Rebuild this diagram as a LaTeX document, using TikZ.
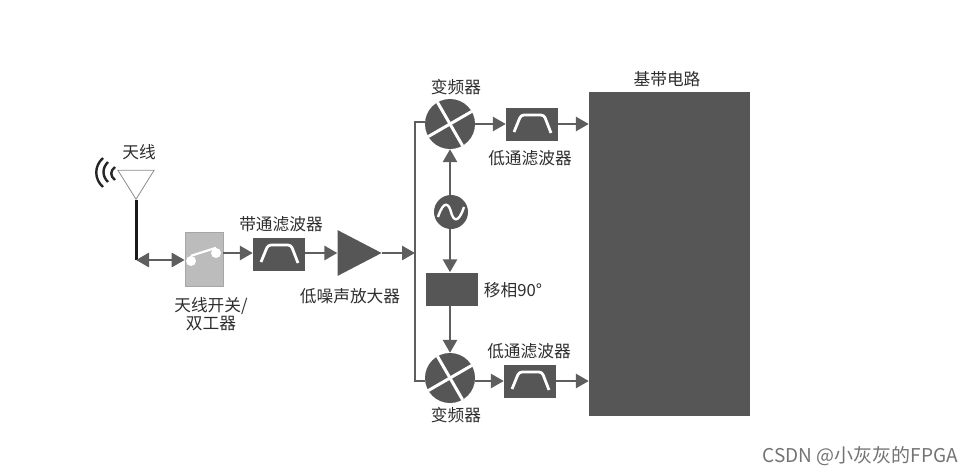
\documentclass[tikz,border=0pt]{standalone}
\usepackage{fontspec}
\setmainfont{Noto Sans CJK SC}
\usepackage{tikz}
\usetikzlibrary{positioning,shapes.geometric,arrows.meta,calc}
\usepackage{xcolor}
\definecolor{rfDark}{HTML}{565656}
\definecolor{rfLine}{HTML}{5E5E5E}
\definecolor{rfPanel}{HTML}{BCBCBC}
\definecolor{rfText}{HTML}{2E2E2E}
\tikzset{
  block/.style={draw=none,fill=rfDark,minimum width=52pt,minimum height=33pt,inner sep=0pt},
  mixer/.style={circle,fill=rfDark,minimum size=50pt,inner sep=0pt},
  link/.style={rfLine,line width=2.8pt},
  flow/.style={link,-{Triangle[length=13pt,width=14pt]}},
  cross/.style={white,line width=3pt},
  label/.style={rfText,font=\fontsize{16.7}{18}\selectfont,inner sep=0pt,align=center},
  wave/.style={black!85,line width=2.4pt},
  filtercurve/.pic={\draw[white,line width=2.8pt,rounded corners=3pt] (-18,8) -- (-11,-9) -- (12,-9) -- (19,9);}
}
\begin{document}
\begin{tikzpicture}[x=1pt,y=-1pt]
  \useasboundingbox (0,0) rectangle (973,474);
  % antenna
  \node[isosceles triangle,shape border rotate=-90,isosceles triangle apex angle=64,
    draw=black!45,line width=0.8pt,minimum height=29pt,inner sep=0pt,anchor=apex] (ant) at (136,200) {};
  \draw[wave] (115,167) .. controls (110,171) and (110,176) .. (115,180);
  \draw[wave] (108,162) .. controls (102,168) and (102,176) .. (108,182);
  \draw[wave] (103,158) .. controls (94,166) and (94,179) .. (103,187);
  \coordinate (feed) at (136,260);
  % switch
  \node[fill=rfPanel,draw=black!35,line width=0.6pt,minimum width=38pt,minimum height=54pt,inner sep=0pt] (sw) at (204,259) {};
  \node[circle,fill=white,minimum size=10pt,inner sep=0pt] (swA) at (191,261) {};
  \node[circle,fill=white,minimum size=10pt,inner sep=0pt] (swB) at (216,253) {};
  \draw[white,line width=2.2pt] (swA.north) -- (swB.north);
  % receive chain
  \node[block] (bpf) at (279,254) {};
  \node[isosceles triangle,isosceles triangle apex angle=55,fill=rfDark,minimum height=44pt,inner sep=0pt,anchor=apex] (lna) at (382,253) {};
  \coordinate (busT) at (415,122);
  \coordinate (busM) at (415,253);
  \coordinate (busB) at (415,381);
  \node[mixer] (mixU) at (450,124) {};
  \node[mixer] (mixL) at (450,378) {};
  \node[block] (lpfU) at (532,124) {};
  \node[block] (lpfL) at (530,381) {};
  \node[circle,fill=rfDark,minimum size=34pt,inner sep=0pt] (osc) at (451,212) {};
  \node[block] (shift) at (452,289) {};
  \node[fill=rfDark,minimum width=161pt,minimum height=324pt,inner sep=0pt] (bb) at (669.5,254) {};
  % inner marks
  \foreach \m in {mixU,mixL} {
    \draw[cross] (\m.120) -- (\m.-60);
    \draw[cross] (\m.210) -- (\m.30);
  }
  \pic at (bpf) {filtercurve};
  \pic at (lpfU) {filtercurve};
  \pic at (lpfL) {filtercurve};
  \draw[white,line width=2.4pt] ($(osc)+(-13,5)$) .. controls ($(osc)+(-7,-13)$) and ($(osc)+(-2,-8)$) .. (osc.center) .. controls ($(osc)+(2,8)$) and ($(osc)+(7,13)$) .. ($(osc)+(13,-5)$);
  % connectors
  \draw[black!90,line width=3pt] (ant.apex) -- (feed);
  \draw[link,{Triangle[length=13pt,width=14pt]}-{Triangle[length=13pt,width=14pt]}] (feed) -- (sw.west |- feed);
  \draw[flow] (sw.east |- swB) -- (bpf.west |- swB);
  \draw[flow] (bpf.east |- swB) -- (lna.west |- swB);
  \draw[flow] (lna.apex) -- (busM);
  \draw[link] (mixU.west |- busT) -- (busT) -- (busB) -- (mixL.west |- busB);
  \draw[flow] (mixU.east) -- (lpfU.west);
  \draw[flow] (lpfU.east) -- (bb.west |- lpfU);
  \draw[flow] (mixL.east |- lpfL) -- (lpfL.west);
  \draw[flow] (lpfL.east) -- (bb.west |- lpfL);
  \draw[flow] (osc.north -| mixU) -- (mixU.south);
  \draw[flow] (osc.south -| mixU) -- (shift.north -| mixU);
  \draw[flow] (shift.south -| mixU) -- (mixL.north);
  % labels
  \node[label] (lAnt) at (139,152) {天线};
  \node[label] (lBpf) at (281,224) {带通滤波器};
  \node[label] (lSw) at (211,314) {天线开关/\\双工器};
  \node[label] (lLna) at (350,296) {低噪声放大器};
  \node[label] (lMixU) at (456,87) {变频器};
  \node[label] (lLpfU) at (530,158) {低通滤波器};
  \node[label] (lShift) at (513,290) {移相90°};
  \node[label] (lLpfL) at (529,351) {低通滤波器};
  \node[label] (lMixL) at (456,415) {变频器};
  \node[label] (lBb) at (667,79) {基带电路};
  \node[label,text=black!55,font=\fontsize{19}{21}\selectfont,anchor=east] (mark) at (958,456) {CSDN @小灰灰的FPGA};
\end{tikzpicture}
\end{document}
